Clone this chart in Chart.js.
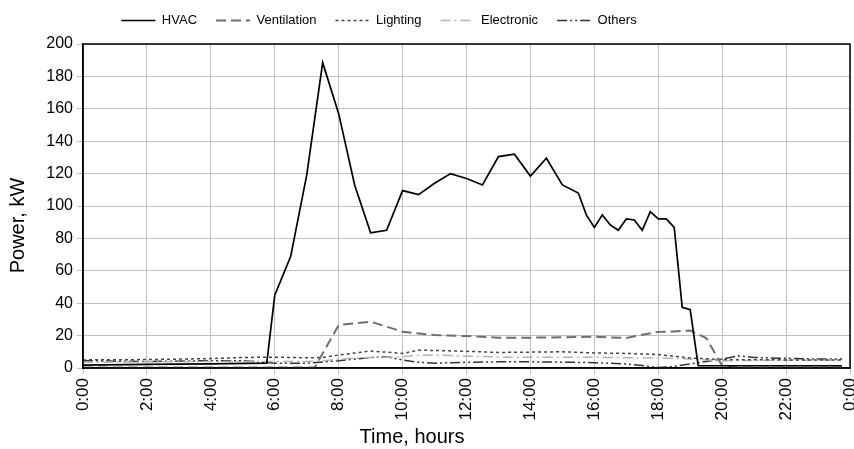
<!DOCTYPE html>
<html>
<head>
<meta charset="utf-8">
<script src="https://cdn.jsdelivr.net/npm/chart.js@4.4.0/dist/chart.umd.min.js"></script>
<style>
html, body { margin: 0; padding: 0; background: #fff; }
</style>
</head>
<body>
<canvas id="myChart" width="854" height="449"></canvas>
<script>
// values, time in hours
var hvacTimes = [0, 2, 4, 5.75, 6, 6.5, 7, 7.5, 8, 8.5, 9, 9.5, 10, 10.5, 11, 11.5, 12, 12.5, 13, 13.5,
                 14, 14.5, 15, 15.5, 15.75, 16, 16.25, 16.5, 16.75, 17, 17.25, 17.5, 17.75, 18, 18.25, 18.5,
                 18.75, 19, 19.25, 23.75];
var hvacValues = [1.8, 2.2, 2.6, 3.0, 45, 69, 119, 188.5, 157, 113, 83.5, 85, 109.5, 107, 114, 120, 117, 113, 130.5, 132,
                  118.5, 129.5, 113, 108, 94.5, 86.8, 94.5, 88.3, 85, 92, 91.4, 85, 96.5, 92, 92, 86.8,
                  37.5, 36, 1.4, 1.4];

var ventTimes = [0, 7.25, 8, 9, 10, 11, 12, 13, 14, 15, 16, 17, 17.5, 18, 18.5, 19, 19.5, 20, 20.5, 23.75];
var ventValues = [0.3, 0.3, 26.5, 28.6, 22.4, 20.3, 19.7, 18.7, 18.7, 19, 19.3, 18.5, 20.5, 22.3, 22.5, 23.2, 18.5, 1.5, 0.3, 0.3];

var lightTimes = [0, 2, 4, 5, 6, 7, 7.5, 8, 9, 10, 10.5, 11, 12, 13, 14, 15, 16, 17, 18, 19, 20, 22, 23.75];
var lightValues = [5, 5.2, 5.8, 6.5, 6.7, 6.3, 6.5, 8, 10.5, 9, 11, 10.8, 10.3, 9.6, 9.8, 10, 9.3, 9, 8.3, 6.2, 5.2, 5, 5];

var elecTimes = [0, 2, 4, 6, 7, 7.5, 8, 9, 10, 10.5, 11, 12, 13, 14, 15, 16, 17, 18, 19, 20, 22, 23.75];
var elecValues = [3.5, 3.8, 4, 4, 4, 4.5, 5.5, 6.5, 7, 7.8, 8, 7.3, 6.8, 6.6, 6.6, 6.6, 6.4, 6.2, 5.5, 4.5, 4.8, 4.8];

var otherTimes = [0, 2, 4, 5, 6, 7, 8, 9, 9.5, 10, 10.5, 11, 12, 13, 14, 15, 16, 17, 17.5, 18, 18.5, 19, 19.5, 20,
                  20.5, 21, 22, 23, 23.75];
var otherValues = [4.5, 4, 4.5, 4.5, 3, 3, 4.5, 6.5, 7, 5, 3.5, 3, 3.5, 3.8, 3.8, 3.6, 3.3, 2.5, 1.5, 0.3, 1, 2.5, 4, 5.5,
                   7.5, 6.5, 6, 5.5, 5.5];

var seriesNames = ["HVAC", "Ventilation", "Lighting", "Electronic", "Others"];

function pts(times, values) {
    return times.map(function(t, i){ return {x: t, y: values[i]}; });
}

var family = "'Liberation Sans', Arial, sans-serif";

// plot frame, legend / title offsets
var frame = {
    id: 'frame',
    afterLayout: function(chart){
        var l = chart.legend;
        l.left -= 46; l.right -= 46;
        l.top -= 7; l.bottom -= 7;
        var t = chart.titleBlock;
        t.left -= 13; t.right -= 13;
    },
    afterDatasetsDraw: function(chart){
        var a = chart.chartArea, ctx = chart.ctx;
        ctx.save();
        ctx.strokeStyle = '#000';
        ctx.lineWidth = 1.5;
        ctx.strokeRect(a.left, a.top, a.right - a.left, a.bottom - a.top);
        ctx.restore();
    }
};

new Chart("myChart", {
    type: "line",
    data: {
        datasets: [
            {label: seriesNames[0], data: pts(hvacTimes, hvacValues), borderColor: "#000", borderWidth: 1.7},
            {label: seriesNames[1], data: pts(ventTimes, ventValues), borderColor: "#6e6e6e", borderWidth: 2, borderDash: [10, 5]},
            {label: seriesNames[2], data: pts(lightTimes, lightValues), borderColor: "#444", borderWidth: 1.5, borderDash: [3, 3]},
            {label: seriesNames[3], data: pts(elecTimes, elecValues), borderColor: "#b4b4b4", borderWidth: 1.5, borderDash: [10, 4, 2, 4]},
            {label: seriesNames[4], data: pts(otherTimes, otherValues), borderColor: "#333", borderWidth: 1.5, borderDash: [10, 3, 2, 3, 2, 3]}
        ]
    },
    options: {
        responsive: false,
        animation: false,
        elements: {point: {radius: 0}, line: {tension: 0, fill: false}},
        layout: {padding: {left: 0, right: 4, top: 2, bottom: 0}},
        plugins: {
            legend: {
                position: 'top',
                labels: {
                    usePointStyle: true, pointStyle: 'line', pointStyleWidth: 34,
                    font: {family: family, size: 13}, color: '#000', padding: 19,
                    generateLabels: function(chart){
                        var items = Chart.defaults.plugins.legend.labels.generateLabels(chart);
                        items.forEach(function(it){
                            var ds = chart.data.datasets[it.datasetIndex];
                            it.lineDash = ds.borderDash || [];
                            it.lineWidth = ds.borderWidth;
                            it.strokeStyle = ds.borderColor;
                        });
                        return items;
                    }
                }
            },
            title: {
                display: true, position: 'bottom', text: 'Time, hours',
                font: {family: family, size: 20, weight: 'normal'}, color: '#000', padding: {top: 0, bottom: 0}
            },
            subtitle: {
                display: true, position: 'left', text: 'Power, kW',
                font: {family: family, size: 20}, color: '#000', padding: {top: 6, bottom: 2}
            },
            tooltip: {enabled: false}
        },
        scales: {
            x: {
                type: 'linear', min: 0, max: 24,
                ticks: {
                    stepSize: 2, minRotation: 90, maxRotation: 90, font: {family: family, size: 17}, color: '#000', padding: 4,
                    callback: function(v){ return (v % 24) + ':00'; }
                },
                grid: {color: '#bfbfbf', tickLength: 6},
                border: {color: '#000', width: 1.5},
                afterFit: function(s){ s.height = 57; s.paddingLeft = 0; s.paddingRight = 0; }
            },
            y: {
                min: 0, max: 200,
                ticks: {stepSize: 20, font: {family: family, size: 16}, color: '#000', padding: 4},
                grid: {color: '#bfbfbf', tickLength: 6},
                border: {color: '#000', width: 1.5},
                afterFit: function(s){ s.width = 51; }
            }
        }
    },
    plugins: [frame]
});
</script>
</body>
</html>
